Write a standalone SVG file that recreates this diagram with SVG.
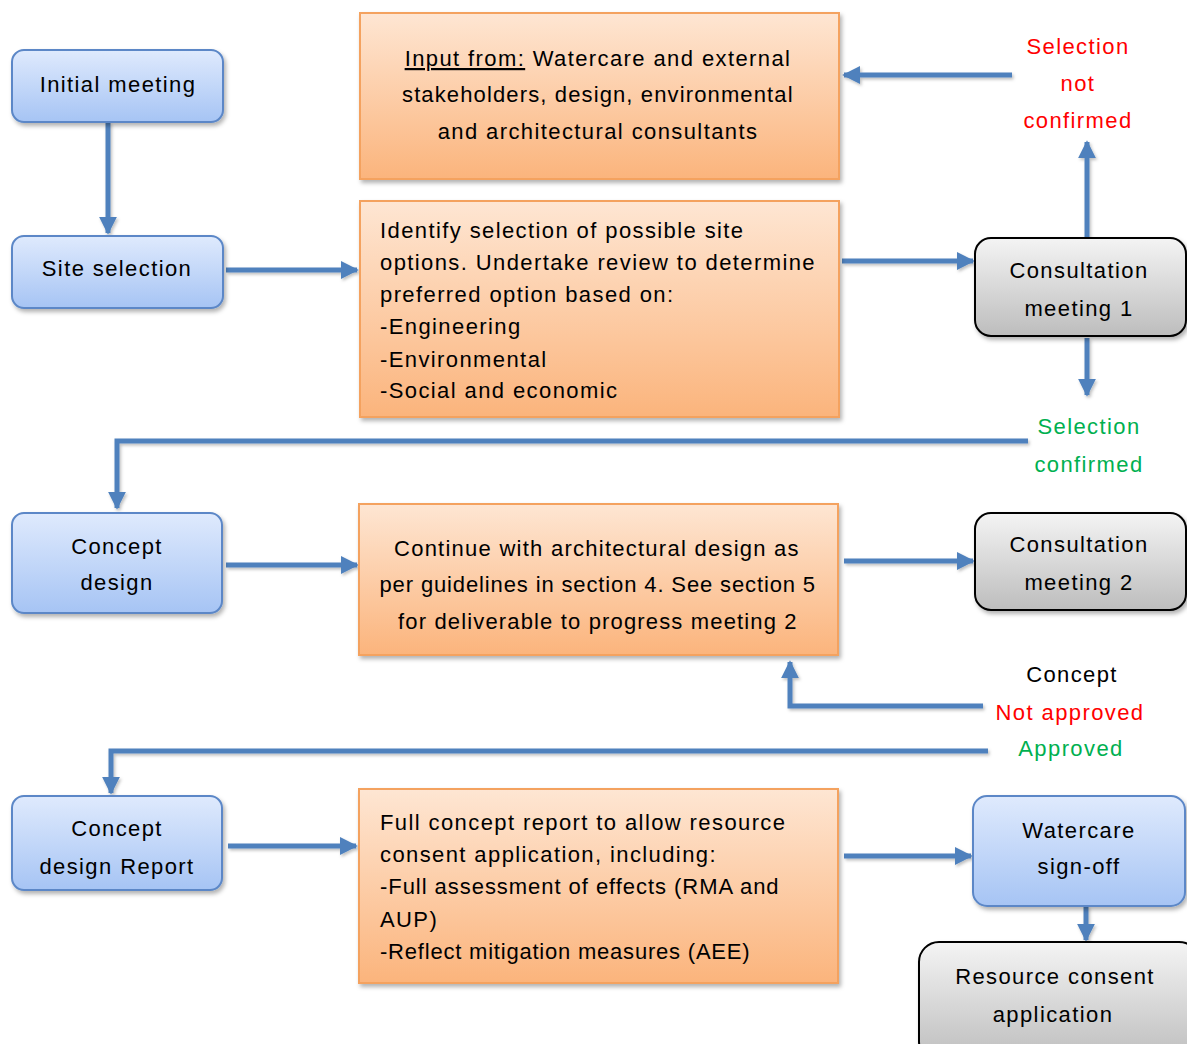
<svg xmlns="http://www.w3.org/2000/svg" width="1187" height="1044" viewBox="0 0 1187 1044">
<defs>
<linearGradient id="gBlue" x1="0" y1="0" x2="0" y2="1"><stop offset="0" stop-color="#dfeafd"/><stop offset="1" stop-color="#a6c4f4"/></linearGradient>
<linearGradient id="gOrange" x1="0" y1="0" x2="0" y2="1"><stop offset="0" stop-color="#fee6d3"/><stop offset="1" stop-color="#fbb47c"/></linearGradient>
<linearGradient id="gGray" x1="0" y1="0" x2="0" y2="1"><stop offset="0" stop-color="#f4f4f4"/><stop offset="1" stop-color="#bdbdbd"/></linearGradient>
<filter id="sh" x="-10%" y="-10%" width="130%" height="130%"><feDropShadow dx="2" dy="3" stdDeviation="2" flood-color="#000" flood-opacity="0.3"/></filter>
<filter id="shc" filterUnits="userSpaceOnUse" x="0" y="0" width="1187" height="1044"><feDropShadow dx="1.5" dy="2" stdDeviation="1.5" flood-color="#000" flood-opacity="0.25"/></filter>
<marker id="ah" viewBox="0 0 10 10" refX="9" refY="5" markerWidth="3.6" markerHeight="3.6" orient="auto" markerUnits="strokeWidth"><path d="M0,0 L10,5 L0,10 z" fill="#4f81bd"/></marker>
</defs>
<style>
text{font-family:"Liberation Sans",Arial,sans-serif;font-size:22px;letter-spacing:1.4px;fill:#000}
.c{text-anchor:middle}
.blue{fill:url(#gBlue);stroke:#5b87c7;stroke-width:2;filter:url(#sh)}
.orange{fill:url(#gOrange);stroke:#f4a25e;stroke-width:2;filter:url(#sh)}
.gray{fill:url(#gGray);stroke:#000;stroke-width:2;filter:url(#sh)}
.red{fill:#ff0000}
.green{fill:#00b050}
.conn{filter:url(#shc)}
.conn path{fill:none;stroke:#4f81bd;stroke-width:5;marker-end:url(#ah)}
</style>
<rect width="1187" height="1044" fill="#fff"/>
<g class="conn">
<path d="M108,122 V233"/>
<path d="M226,270 H357"/>
<path d="M842,261 H973"/>
<path d="M1087,238 V142"/>
<path d="M1012,75 H844"/>
<path d="M1087,338 V395"/>
<path d="M1028,441 H117 V508"/>
<path d="M226,565 H357"/>
<path d="M844,561 H973"/>
<path d="M983,706 H790 V662"/>
<path d="M988,751 H111 V793"/>
<path d="M228,846 H356"/>
<path d="M844,856 H971"/>
<path d="M1086,906 V940"/>
</g>
<g id="n-initial"><rect class="blue" x="12" y="50" width="211" height="72" rx="12"/><text class="c" x="118" y="92">Initial meeting</text></g>
<g id="n-site"><rect class="blue" x="12" y="236" width="211" height="72" rx="12"/><text class="c" x="117" y="276">Site selection</text></g>
<g id="n-input"><rect class="orange" x="360" y="13" width="479" height="166"/>
<text class="c" x="598" y="66"><tspan text-decoration="underline">Input from:</tspan> Watercare and external</text>
<text class="c" x="598" y="102" textLength="392" lengthAdjust="spacing">stakeholders, design, environmental</text>
<text class="c" x="598" y="139">and architectural consultants</text></g>
<g id="n-identify"><rect class="orange" x="360" y="201" width="479" height="216"/>
<text x="380" y="238">Identify selection of possible site</text>
<text x="380" y="270">options. Undertake review to determine</text>
<text x="380" y="302">preferred option based on:</text>
<text x="380" y="334">-Engineering</text>
<text x="380" y="367">-Environmental</text>
<text x="380" y="398">-Social and economic</text></g>
<g id="n-cm1"><rect class="gray" x="975" y="238" width="211" height="98" rx="16"/><text class="c" x="1079" y="278">Consultation</text><text class="c" x="1079" y="316">meeting 1</text></g>
<g id="l-notconf"><text class="c red" x="1078" y="54">Selection</text><text class="c red" x="1078" y="91">not</text><text class="c red" x="1078" y="128">confirmed</text></g>
<g id="l-conf"><text class="c green" x="1089" y="434">Selection</text><text class="c green" x="1089" y="472">confirmed</text></g>
<g id="n-concept"><rect class="blue" x="12" y="513" width="210" height="100" rx="12"/><text class="c" x="117" y="554">Concept</text><text class="c" x="117" y="590">design</text></g>
<g id="n-continue"><rect class="orange" x="359" y="504" width="479" height="151"/>
<text class="c" x="597" y="556" textLength="406" lengthAdjust="spacing">Continue with architectural design as</text>
<text class="c" x="598" y="592" textLength="437" lengthAdjust="spacing">per guidelines in section 4. See section 5</text>
<text class="c" x="598" y="629" textLength="400" lengthAdjust="spacing">for deliverable to progress meeting 2</text></g>
<g id="n-cm2"><rect class="gray" x="975" y="513" width="211" height="97" rx="16"/><text class="c" x="1079" y="552">Consultation</text><text class="c" x="1079" y="590">meeting 2</text></g>
<g id="l-concept"><text class="c" x="1072" y="682">Concept</text><text class="c red" x="1070" y="720">Not approved</text><text class="c green" x="1071" y="756">Approved</text></g>
<g id="n-report"><rect class="blue" x="12" y="796" width="210" height="94" rx="12"/><text class="c" x="117" y="836">Concept</text><text class="c" x="117" y="874">design Report</text></g>
<g id="n-full"><rect class="orange" x="359" y="789" width="479" height="194"/>
<text x="380" y="830">Full concept report to allow resource</text>
<text x="380" y="862">consent application, including:</text>
<text x="380" y="894" textLength="400" lengthAdjust="spacing">-Full assessment of effects (RMA and</text>
<text x="380" y="927">AUP)</text>
<text x="380" y="959" textLength="371" lengthAdjust="spacing">-Reflect mitigation measures (AEE)</text></g>
<g id="n-signoff"><rect class="blue" x="973" y="796" width="212" height="110" rx="14"/><text class="c" x="1079" y="838">Watercare</text><text class="c" x="1079" y="874">sign-off</text></g>
<g id="n-resource"><rect class="gray" x="919" y="942" width="280" height="120" rx="20"/><text class="c" x="1055" y="984">Resource consent</text><text class="c" x="1053" y="1022">application</text></g>
</svg>
